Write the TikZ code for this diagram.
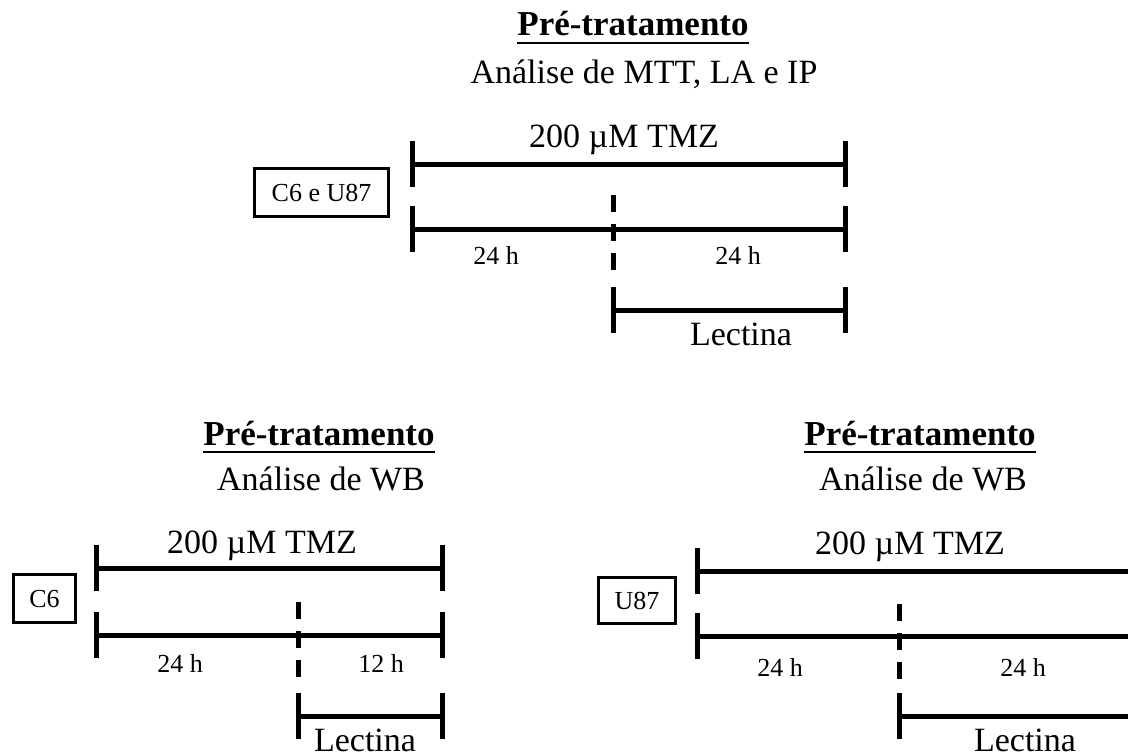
\documentclass[tikz,border=0pt]{standalone}
\usepackage{fontspec}
\setmainfont{Liberation Serif}
\begin{document}
\begin{tikzpicture}[x=1pt,y=-1pt,
  bar/.style={line width=5pt},
  dashline/.style={line width=5pt, dash pattern=on 17pt off 12pt},
  big/.style={font=\fontsize{34}{40}\selectfont, inner sep=0pt, anchor=base},
  ttl/.style={font=\bfseries\fontsize{35}{40}\selectfont, inner sep=0pt, anchor=base},
  small/.style={font=\fontsize{26}{30}\selectfont, inner sep=0pt, anchor=base},
  cell/.style={draw, line width=3.5pt, font=\fontsize{26}{30}\selectfont, inner sep=0pt, text depth=0pt},
  uline/.style={line width=2.6pt}
]
\useasboundingbox (0,0) rectangle (1128,753);
\clip (0,0) rectangle (1128,753);

% ---------------- top block ----------------
\node[ttl] (t1) at (633,35) {Pré-tratamento};
\draw[uline] ([yshift=-8pt]t1.base west) -- ([yshift=-8pt]t1.base east);
\node[big] (a1) at (644,83) {Análise de MTT, LA e IP};
\node[big] (z1) at (624,147) {200 µM TMZ};
\node[cell, minimum width=134pt, minimum height=48pt] (b1) at (321.5,192.5) {C6 e U87};

\coordinate (p1a) at (412,164); \coordinate (p1b) at (845,164);
\coordinate (q1a) at (412,229); \coordinate (q1b) at (845,229);
\coordinate (l1a) at (613,310); \coordinate (l1b) at (845,310);
\coordinate (d1a) at (613,195); \coordinate (d1b) at (613,274);
\draw[bar] (p1a) -- (p1b);
\draw[bar] ([yshift=23pt]p1a) -- ([yshift=-23pt]p1a);
\draw[bar] ([yshift=23pt]p1b) -- ([yshift=-23pt]p1b);
\draw[bar] (q1a) -- (q1b);
\draw[bar] ([yshift=23pt]q1a) -- ([yshift=-23pt]q1a);
\draw[bar] ([yshift=23pt]q1b) -- ([yshift=-23pt]q1b);
\draw[bar] (l1a) -- (l1b);
\draw[bar] ([yshift=23pt]l1a) -- ([yshift=-23pt]l1a);
\draw[bar] ([yshift=23pt]l1b) -- ([yshift=-23pt]l1b);
\draw[dashline] (d1a) -- (d1b);
\node[small] (h1a) at (496,264) {24 h};
\node[small] (h1b) at (738,264) {24 h};
\node[big] (lc1) at (741,345) {Lectina};

% ---------------- bottom left block ----------------
\node[ttl] (t2) at (319,445) {Pré-tratamento};
\draw[uline] ([yshift=-7pt]t2.base west) -- ([yshift=-7pt]t2.base east);
\node[big] (a2) at (321,490) {Análise de WB};
\node[big] (z2) at (262,553) {200 µM TMZ};
\node[cell, minimum width=62pt, minimum height=48pt] (b2) at (44.5,598.5) {C6};

\coordinate (p2a) at (96,568); \coordinate (p2b) at (442,568);
\coordinate (q2a) at (96,635); \coordinate (q2b) at (442,635);
\coordinate (l2a) at (298,716); \coordinate (l2b) at (442,716);
\coordinate (d2a) at (298,602); \coordinate (d2b) at (298,680);
\draw[bar] (p2a) -- (p2b);
\draw[bar] ([yshift=23pt]p2a) -- ([yshift=-23pt]p2a);
\draw[bar] ([yshift=23pt]p2b) -- ([yshift=-23pt]p2b);
\draw[bar] (q2a) -- (q2b);
\draw[bar] ([yshift=23pt]q2a) -- ([yshift=-23pt]q2a);
\draw[bar] ([yshift=23pt]q2b) -- ([yshift=-23pt]q2b);
\draw[bar] (l2a) -- (l2b);
\draw[bar] ([yshift=23pt]l2a) -- ([yshift=-23pt]l2a);
\draw[bar] ([yshift=23pt]l2b) -- ([yshift=-23pt]l2b);
\draw[dashline] (d2a) -- (d2b);
\node[small] (h2a) at (180,672) {24 h};
\node[small] (h2b) at (381,672) {12 h};
\node[big] (lc2) at (365,751) {Lectina};

% ---------------- bottom right block ----------------
\node[ttl] (t3) at (920,445) {Pré-tratamento};
\draw[uline] ([yshift=-7pt]t3.base west) -- ([yshift=-7pt]t3.base east);
\node[big] (a3) at (923,490) {Análise de WB};
\node[big] (z3) at (910,554) {200 µM TMZ};
\node[cell, minimum width=77pt, minimum height=46pt] (b3) at (637,600.5) {U87};

\coordinate (p3a) at (697,571); \coordinate (p3b) at (1131,571);
\coordinate (q3a) at (697,636); \coordinate (q3b) at (1131,636);
\coordinate (l3a) at (899,716); \coordinate (l3b) at (1131,716);
\coordinate (d3a) at (899,604); \coordinate (d3b) at (899,682);
\draw[bar] (p3a) -- (p3b);
\draw[bar] ([yshift=23pt]p3a) -- ([yshift=-23pt]p3a);
\draw[bar] ([yshift=23pt]p3b) -- ([yshift=-23pt]p3b);
\draw[bar] (q3a) -- (q3b);
\draw[bar] ([yshift=23pt]q3a) -- ([yshift=-23pt]q3a);
\draw[bar] ([yshift=23pt]q3b) -- ([yshift=-23pt]q3b);
\draw[bar] (l3a) -- (l3b);
\draw[bar] ([yshift=23pt]l3a) -- ([yshift=-23pt]l3a);
\draw[bar] ([yshift=23pt]l3b) -- ([yshift=-23pt]l3b);
\draw[dashline] (d3a) -- (d3b);
\node[small] (h3a) at (780,676) {24 h};
\node[small] (h3b) at (1023,676) {24 h};
\node[big] (lc3) at (1025,751) {Lectina};
\end{tikzpicture}
\end{document}
